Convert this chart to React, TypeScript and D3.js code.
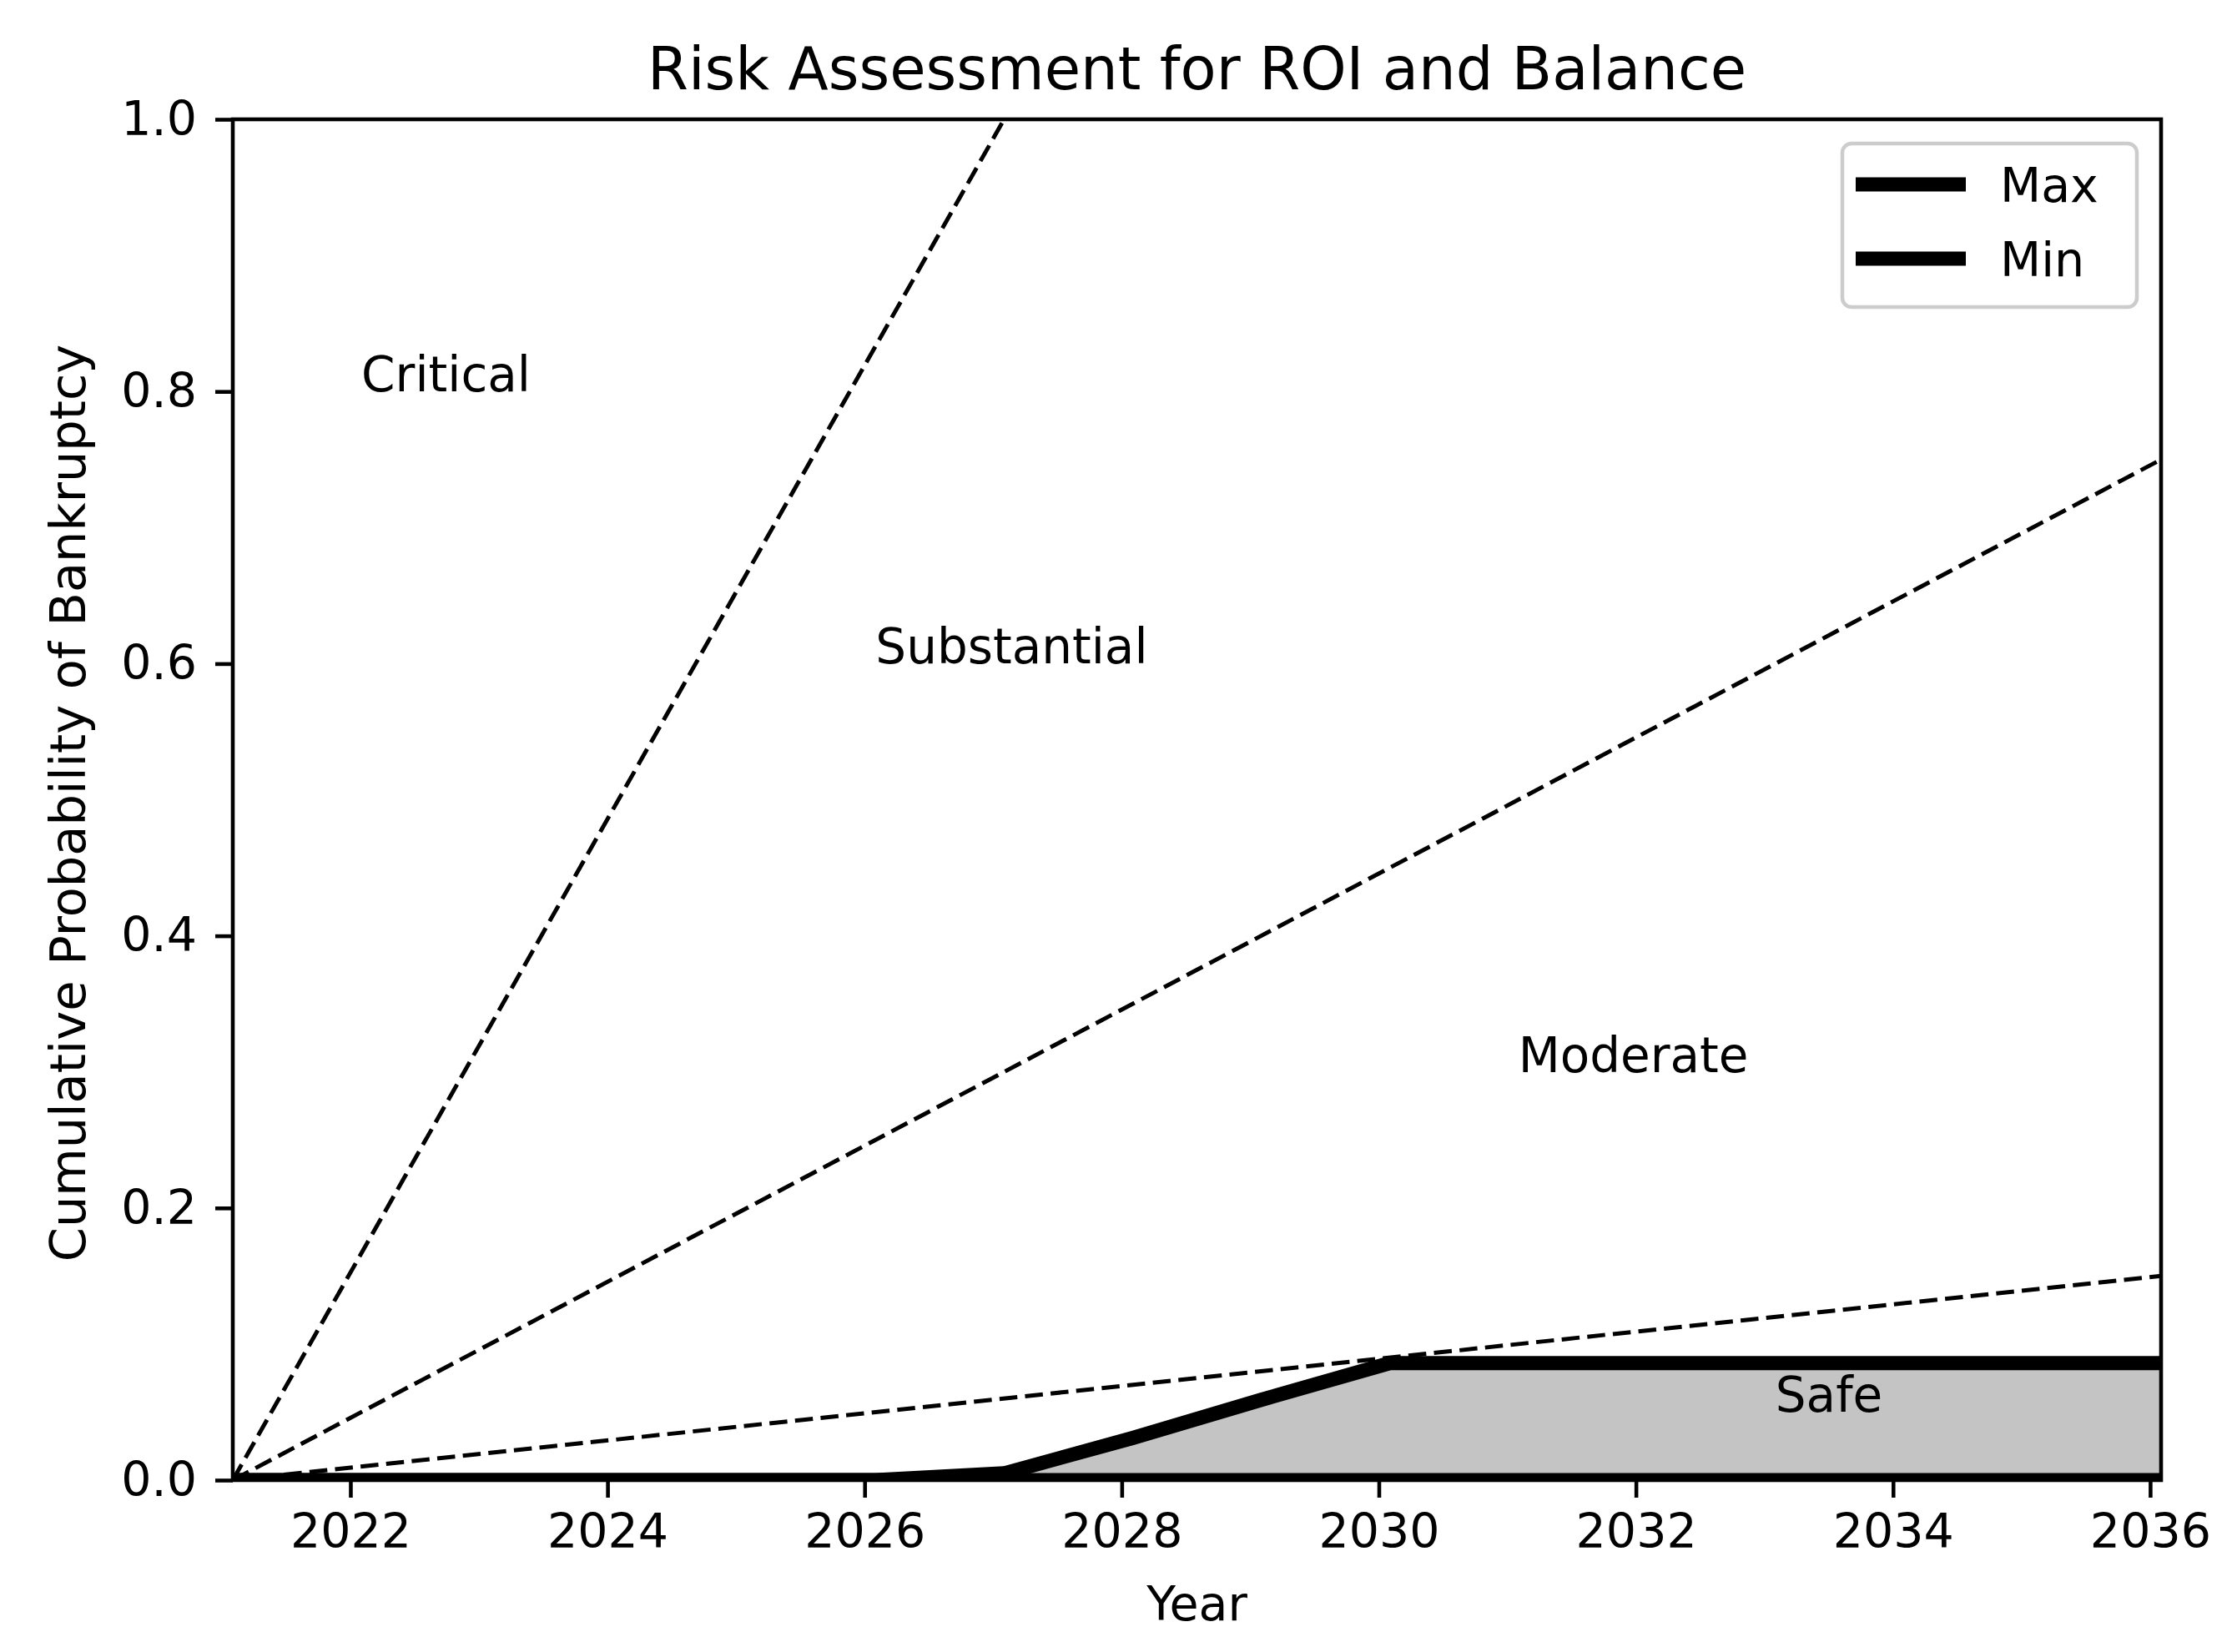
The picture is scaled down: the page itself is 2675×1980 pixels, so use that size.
import { useEffect, useRef } from 'react';
import * as d3 from 'd3';

// yearly sample dates (1 Feb of each year, as decimal years)
const years = [
  2021.085, 2022.085, 2023.085, 2024.085, 2025.085, 2026.085, 2027.085, 2028.085,
  2029.085, 2030.085, 2031.085, 2032.085, 2033.085, 2034.085, 2035.085, 2036.085,
];

const maxRisk = [0, 0, 0, 0, 0, 0, 0.005, 0.031, 0.059, 0.086, 0.086, 0.086, 0.086, 0.086, 0.086, 0.086];
const minRisk = [0, 0, 0, 0, 0, 0, 0, 0, 0, 0, 0, 0, 0, 0, 0, 0];

// dashed risk boundaries, straight from the first to the last year
const boundaryStart = [0, 0, 0];
const boundaryEnd = [2.5, 0.75, 0.15];

const zoneLabels = ['Critical', 'Substantial', 'Moderate', 'Safe'];
const zoneX = [2022.085, 2026.085, 2031.085, 2033.085];
const zoneY = [0.8, 0.6, 0.3, 0.05];

const xTicks = [2022, 2024, 2026, 2028, 2030, 2032, 2034, 2036];
const yTicks = [0, 0.2, 0.4, 0.6, 0.8, 1.0];

const legendNames = ['Max', 'Min'];

const W = 2675;
const H = 1980;
const FONT = '"DejaVu Sans", sans-serif';

export default function App() {
  const svgRef = useRef<SVGSVGElement>(null);

  useEffect(() => {
    if (!svgRef.current) return;
    const svg = d3.select(svgRef.current);
    svg.selectAll('*').remove();

    const left = 279;
    const right = 2590;
    const top = 143;
    const bottom = 1774;

    const x = d3.scaleLinear().domain([2021.085, 2036.085]).range([left, right]);
    const y = d3.scaleLinear().domain([0, 1]).range([bottom, top]);

    svg.append('rect').attr('width', W).attr('height', H).attr('fill', '#ffffff');

    svg.append('defs')
      .append('clipPath')
      .attr('id', 'plot-clip')
      .append('rect')
      .attr('x', left)
      .attr('y', top)
      .attr('width', right - left)
      .attr('height', bottom - top);

    const plot = svg.append('g').attr('clip-path', 'url(#plot-clip)');

    const rows = years.map((yr, i) => ({ yr, lo: minRisk[i], hi: maxRisk[i] }));

    // shaded band between min and max
    const area = d3.area<any>()
      .x((d) => x(d.yr))
      .y0((d) => y(d.lo))
      .y1((d) => y(d.hi));

    plot.append('path')
      .datum(rows)
      .attr('d', area)
      .attr('fill', '#c4c4c4')
      .attr('stroke', '#c4c4c4')
      .attr('stroke-width', 5.8)
      .attr('stroke-linejoin', 'round');

    // dashed boundaries
    const first = years[0];
    const last = years[years.length - 1];
    boundaryEnd.forEach((end, i) => {
      plot.append('line')
        .attr('x1', x(first))
        .attr('y1', y(boundaryStart[i]))
        .attr('x2', x(last))
        .attr('y2', y(end))
        .attr('stroke', '#000')
        .attr('stroke-width', 5)
        .attr('stroke-dasharray', '21.5,9.3');
    });

    const line = d3.line<any>().x((d) => x(d.yr)).y((d) => y(d.v));

    [maxRisk, minRisk].forEach((series) => {
      plot.append('path')
        .datum(years.map((yr, i) => ({ yr, v: series[i] })))
        .attr('d', line)
        .attr('fill', 'none')
        .attr('stroke', '#000')
        .attr('stroke-width', 17)
        .attr('stroke-linejoin', 'round');
    });

    // zone labels
    zoneLabels.forEach((t, i) => {
      svg.append('text')
        .attr('x', x(zoneX[i]))
        .attr('y', y(zoneY[i]))
        .attr('font-family', FONT)
        .attr('font-size', 58)
        .attr('fill', '#000')
        .text(t);
    });

    // axes
    const xAxis = svg.append('g')
      .attr('transform', `translate(0,${bottom})`)
      .call(d3.axisBottom(x).tickValues(xTicks).tickFormat(d3.format('d')).tickSize(21).tickPadding(20));
    const yAxis = svg.append('g')
      .attr('transform', `translate(${left},0)`)
      .call(d3.axisLeft(y).tickValues(yTicks).tickFormat(d3.format('.1f')).tickSize(21).tickPadding(22));

    [xAxis, yAxis].forEach((g) => {
      g.select('.domain').remove();
      g.selectAll('.tick line').attr('stroke', '#000').attr('stroke-width', 4.6);
      g.selectAll('.tick text')
        .attr('font-family', FONT)
        .attr('font-size', 57)
        .attr('fill', '#000');
    });

    // frame
    svg.append('rect')
      .attr('x', left)
      .attr('y', top)
      .attr('width', right - left)
      .attr('height', bottom - top)
      .attr('fill', 'none')
      .attr('stroke', '#000')
      .attr('stroke-width', 4.6);

    // titles
    svg.append('text')
      .attr('x', (left + right) / 2)
      .attr('y', 107)
      .attr('text-anchor', 'middle')
      .attr('font-family', FONT)
      .attr('font-size', 70.5)
      .text('Risk Assessment for ROI and Balance');

    svg.append('text')
      .attr('x', (left + right) / 2)
      .attr('y', 1942)
      .attr('text-anchor', 'middle')
      .attr('font-family', FONT)
      .attr('font-size', 57)
      .text('Year');

    svg.append('text')
      .attr('transform', `translate(102,${(top + bottom) / 2 + 4}) rotate(-90)`)
      .attr('text-anchor', 'middle')
      .attr('font-family', FONT)
      .attr('font-size', 59)
      .text('Cumulative Probability of Bankruptcy');

    // legend
    const lg = svg.append('g');
    lg.append('rect')
      .attr('x', 2208)
      .attr('y', 172)
      .attr('width', 353)
      .attr('height', 196)
      .attr('rx', 11)
      .attr('fill', '#ffffff')
      .attr('fill-opacity', 0.8)
      .attr('stroke', '#cccccc')
      .attr('stroke-width', 4.5);

    legendNames.forEach((name, i) => {
      const cy = 221 + i * 89;
      lg.append('line')
        .attr('x1', 2224)
        .attr('x2', 2356)
        .attr('y1', cy)
        .attr('y2', cy)
        .attr('stroke', '#000')
        .attr('stroke-width', 17);
      lg.append('text')
        .attr('x', 2397)
        .attr('y', cy + 21)
        .attr('font-family', FONT)
        .attr('font-size', 57)
        .text(name);
    });
  }, []);

  return (
    <div style={{ position: 'absolute', left: 0, top: 0 }}>
      <svg ref={svgRef} width={W} height={H} style={{ display: 'block' }} />
    </div>
  );
}
